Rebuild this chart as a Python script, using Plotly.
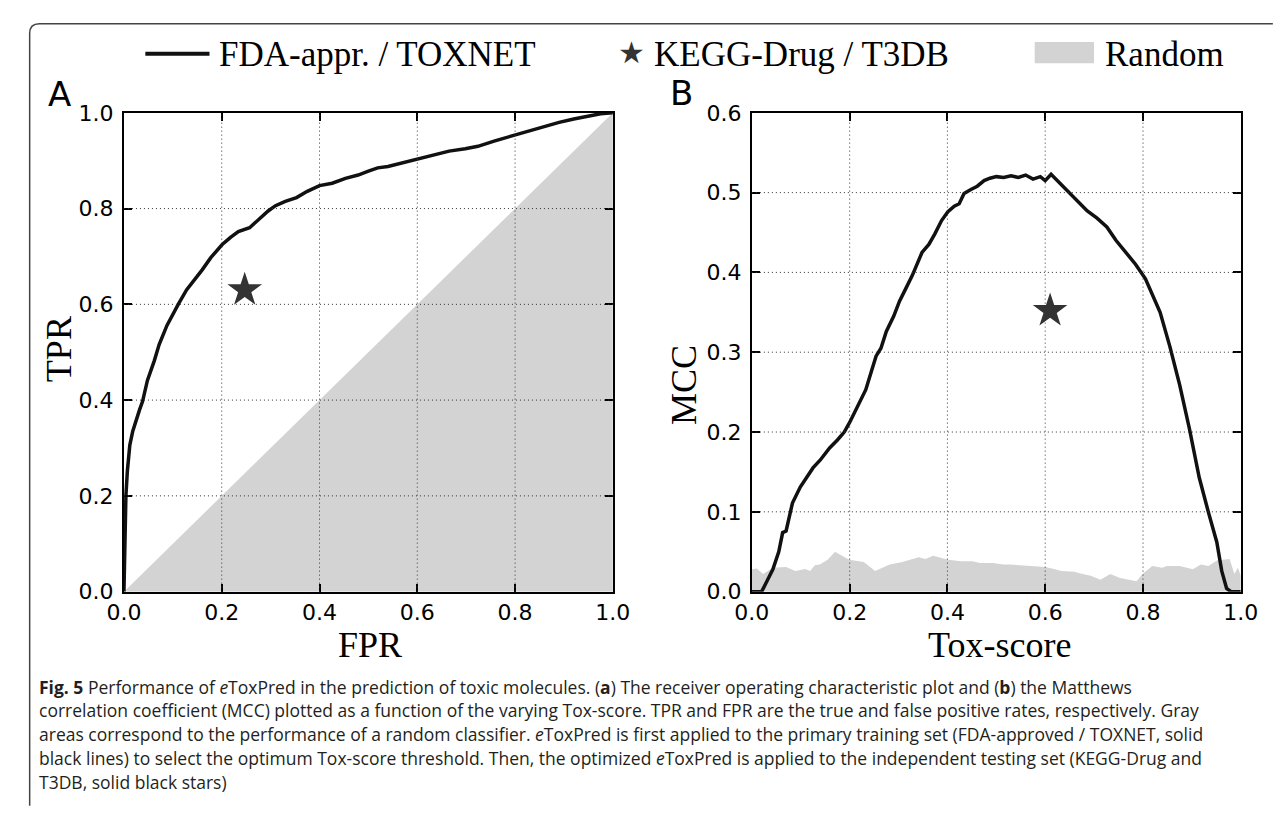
import plotly.graph_objects as go

W, H = 1286, 814

# ---------------- data ----------------
roc_fpr = [0, 0.002, 0.004, 0.007, 0.012, 0.018, 0.025, 0.032, 0.038, 0.048, 0.062, 0.072, 0.088, 0.1, 0.111,
           0.128, 0.141, 0.16, 0.178, 0.201, 0.218, 0.234, 0.257, 0.27, 0.28, 0.295, 0.31, 0.33, 0.353, 0.375,
           0.4, 0.426, 0.453, 0.479, 0.5, 0.519, 0.54, 0.559, 0.598, 0.632, 0.665, 0.698, 0.724, 0.757, 0.791,
           0.83, 0.863, 0.89, 0.92, 0.95, 0.975, 1.0]
roc_tpr = [0, 0.12, 0.2, 0.252, 0.306, 0.335, 0.36, 0.38, 0.397, 0.441, 0.482, 0.516, 0.556, 0.58, 0.6,
           0.63, 0.646, 0.672, 0.698, 0.725, 0.74, 0.752, 0.76, 0.772, 0.782, 0.795, 0.806, 0.815, 0.823, 0.836,
           0.848, 0.853, 0.863, 0.87, 0.878, 0.885, 0.888, 0.893, 0.902, 0.912, 0.92, 0.925, 0.93, 0.941, 0.951,
           0.962, 0.971, 0.98, 0.987, 0.993, 0.998, 1.0]
roc_random_fpr = [0, 1]
roc_random_tpr = [0, 1]
roc_test_fpr = [0.247]
roc_test_tpr = [0.630]

mcc_tox = [0, 0.02, 0.03, 0.043, 0.055, 0.063, 0.07, 0.083, 0.099, 0.112,
           0.125, 0.14, 0.159, 0.175, 0.189, 0.2, 0.213, 0.223, 0.233, 0.245,
           0.254, 0.264, 0.275, 0.29, 0.302, 0.315, 0.328, 0.348, 0.362, 0.374,
           0.388, 0.401, 0.414, 0.424, 0.434, 0.448, 0.461, 0.475, 0.487, 0.5,
           0.515, 0.53, 0.545, 0.56, 0.575, 0.59, 0.6, 0.612, 0.625, 0.646,
           0.666, 0.686, 0.706, 0.726, 0.745, 0.765, 0.785, 0.805, 0.82, 0.835,
           0.855, 0.875, 0.895, 0.915, 0.934, 0.951, 0.961, 0.971, 0.98, 1.0]
mcc_val = [0, 0, 0.012, 0.028, 0.05, 0.074, 0.076, 0.111, 0.131, 0.143,
           0.155, 0.165, 0.18, 0.19, 0.2, 0.212, 0.228, 0.24, 0.253, 0.277,
           0.295, 0.305, 0.326, 0.345, 0.364, 0.38, 0.396, 0.425, 0.435, 0.448,
           0.465, 0.476, 0.483, 0.486, 0.499, 0.504, 0.508, 0.515, 0.518, 0.52,
           0.519, 0.521, 0.519, 0.522, 0.517, 0.52, 0.515, 0.523, 0.515, 0.502,
           0.49, 0.477, 0.468, 0.457, 0.44, 0.425, 0.41, 0.392, 0.372, 0.35,
           0.307, 0.259, 0.204, 0.143, 0.099, 0.062, 0.026, 0.004, 0, 0]
rnd_tox = [0, 0.01, 0.023, 0.043, 0.07, 0.089, 0.109, 0.119, 0.129, 0.139,
           0.155, 0.17, 0.199, 0.229, 0.252, 0.282, 0.308, 0.341, 0.355, 0.371,
           0.401, 0.428, 0.451, 0.467, 0.494, 0.514, 0.527, 0.567, 0.6, 0.62,
           0.633, 0.66, 0.67, 0.693, 0.713, 0.733, 0.753, 0.787, 0.799, 0.819,
           0.839, 0.849, 0.875, 0.902, 0.918, 0.934, 0.951, 0.977, 0.987, 0.994, 1.0]
rnd_mcc = [0.028, 0.029, 0.022, 0.030, 0.031, 0.026, 0.0285, 0.026, 0.033, 0.034,
           0.040, 0.050, 0.040, 0.037, 0.026, 0.034, 0.037, 0.043, 0.041, 0.045,
           0.040, 0.038, 0.038, 0.036, 0.036, 0.034, 0.034, 0.032, 0.031, 0.028,
           0.026, 0.025, 0.023, 0.020, 0.015, 0.022, 0.017, 0.013, 0.022, 0.032,
           0.030, 0.032, 0.032, 0.028, 0.034, 0.032, 0.039, 0.041, 0.022, 0.030, 0.020]
mcc_test_tox = [0.61]
mcc_test_val = [0.352]

ticks_a = [0.0, 0.2, 0.4, 0.6, 0.8, 1.0]
ticks_b_y = [0.0, 0.1, 0.2, 0.3, 0.4, 0.5, 0.6]
legend_labels = ["FDA-appr. / TOXNET", "KEGG-Drug / T3DB", "Random"]
caption_lines = [
    "<b>Fig. 5</b> Performance of <i>e</i>ToxPred in the prediction of toxic molecules. (<b>a</b>) The receiver operating characteristic plot and (<b>b</b>) the Matthews",
    "correlation coefficient (MCC) plotted as a function of the varying Tox-score. TPR and FPR are the true and false positive rates, respectively. Gray",
    "areas correspond to the performance of a random classifier. <i>e</i>ToxPred is first applied to the primary training set (FDA-approved / TOXNET, solid",
    "black lines) to select the optimum Tox-score threshold. Then, the optimized <i>e</i>ToxPred is applied to the independent testing set (KEGG-Drug and",
    "T3DB, solid black stars)",
]

# ---------------- helpers (pixel -> paper) ----------------
def px(x):
    return x / W

def py(y):
    return 1 - y / H

GRAY = "#d3d3d3"
LINE = "#111111"
STAR = "#333333"
SERIF = "Liberation Serif, Times New Roman, serif"
SANS = "DejaVu Sans, sans-serif"

fig = go.Figure()

# Panel A
fig.add_trace(go.Scatter(x=roc_random_fpr, y=roc_random_tpr, mode="lines", fill="tozeroy",
                         fillcolor=GRAY, line=dict(width=0, color=GRAY), xaxis="x", yaxis="y",
                         hoverinfo="skip", showlegend=False))
fig.add_trace(go.Scatter(x=roc_fpr, y=roc_tpr, mode="lines", line=dict(color=LINE, width=3.5),
                         xaxis="x", yaxis="y", showlegend=False))
fig.add_trace(go.Scatter(x=roc_test_fpr, y=roc_test_tpr, mode="markers",
                         marker=dict(symbol="star", size=26, color=STAR, line=dict(width=0)),
                         xaxis="x", yaxis="y", showlegend=False))
# Panel B
fig.add_trace(go.Scatter(x=rnd_tox, y=rnd_mcc, mode="lines", fill="tozeroy",
                         fillcolor=GRAY, line=dict(width=0, color=GRAY), xaxis="x2", yaxis="y2",
                         hoverinfo="skip", showlegend=False))
fig.add_trace(go.Scatter(x=mcc_tox, y=mcc_val, mode="lines", line=dict(color=LINE, width=3.5),
                         xaxis="x2", yaxis="y2", showlegend=False))
fig.add_trace(go.Scatter(x=mcc_test_tox, y=mcc_test_val, mode="markers",
                         marker=dict(symbol="star", size=26, color=STAR, line=dict(width=0)),
                         xaxis="x2", yaxis="y2", showlegend=False))

ydom = [py(598), py(104)]
axis_common = dict(showline=True, linecolor="black", linewidth=2, mirror="allticks",
                   ticks="inside", ticklen=8, tickwidth=1.5, tickcolor="black",
                   tickfont=dict(family=SANS, size=22, color="black"),
                   showgrid=False, zeroline=False, tickformat=".1f", fixedrange=True)

fig.update_layout(
    width=W, height=H, margin=dict(l=0, r=0, t=0, b=0),
    paper_bgcolor="white", plot_bgcolor="white", showlegend=False,
    xaxis=dict(domain=[px(109), px(612)], range=[0, 1], tickvals=ticks_a, anchor="y", **axis_common),
    yaxis=dict(domain=ydom, range=[0, 1], tickvals=ticks_a, anchor="x", ticklabelstandoff=4, **axis_common),
    xaxis2=dict(domain=[px(755), px(1258)], range=[0, 1], tickvals=ticks_a, anchor="y2", **axis_common),
    yaxis2=dict(domain=ydom, range=[0, 0.6], tickvals=ticks_b_y, anchor="x2", ticklabelstandoff=4, **axis_common),
)

shapes = []
grid_style = dict(color="#333333", width=1, dash="1px,3px")
for xa, ya, xt, yt in [("x", "y", ticks_a[1:-1], ticks_a[1:-1]),
                       ("x2", "y2", ticks_a[1:-1], ticks_b_y[1:-1])]:
    for t in xt:
        shapes.append(dict(type="line", xref=xa, yref=ya + " domain", x0=t, x1=t, y0=0, y1=1,
                           line=grid_style, layer="above"))
    for t in yt:
        shapes.append(dict(type="line", xref=xa + " domain", yref=ya, x0=0, x1=1, y0=t, y1=t,
                           line=grid_style, layer="above"))

# outer frame with rounded top-left corner
r = 10
shapes.append(dict(type="path", xref="paper", yref="paper",
                   path=f"M {px(12)},{py(H + 5)} L {px(12)},{py(12 + r)} Q {px(12)},{py(12)} {px(12 + r)},{py(12)} L {px(W + 5)},{py(12)}",
                   line=dict(color="#444444", width=1.5)))

# legend (manual)
shapes.append(dict(type="line", xref="paper", yref="paper", x0=px(131), x1=px(197), y0=py(43), y1=py(43),
                   line=dict(color=LINE, width=4)))
shapes.append(dict(type="rect", xref="paper", yref="paper", x0=px(1046), x1=px(1107), y0=py(53), y1=py(31),
                   fillcolor=GRAY, line=dict(width=0)))
fig.update_layout(shapes=shapes)

ann = []
ann.append(dict(text=legend_labels[0], x=px(205), y=py(44), xanchor="left", yanchor="middle"))
ann.append(dict(text="★", x=px(631), y=py(42), xanchor="center", yanchor="middle",
                font=dict(family=SANS, size=30, color=STAR)))
ann.append(dict(text=legend_labels[1], x=px(652), y=py(44), xanchor="left", yanchor="middle"))
ann.append(dict(text=legend_labels[2], x=px(1116), y=py(44), xanchor="left", yanchor="middle"))
for a in ann:
    a.setdefault("font", dict(family=SERIF, size=35, color="black"))

# panel letters
ann.append(dict(text="A", x=px(43), y=py(85), font=dict(family=SANS, size=34, color="black")))
ann.append(dict(text="B", x=px(683), y=py(84), font=dict(family=SANS, size=34, color="black")))
# axis titles
title_font = dict(family=SERIF, size=36, color="black")
ann.append(dict(text="FPR", x=px(362), y=py(653), font=title_font))
ann.append(dict(text="Tox-score", x=px(1010), y=py(653), font=title_font))
ann.append(dict(text="TPR", x=px(42), y=py(348), textangle=-90, font=title_font))
ann.append(dict(text="MCC", x=px(685), y=py(385), textangle=-90, font=title_font))

# caption
cap_y = [696, 720.5, 745, 769.5, 794]
for line, yy in zip(caption_lines, cap_y):
    ann.append(dict(text=line, x=px(20), y=py(yy), xanchor="left", yanchor="middle",
                    font=dict(family="Open Sans, Noto Sans, sans-serif", size=17.5, color="#231f20")))

for a in ann:
    a.update(xref="paper", yref="paper", showarrow=False)
    a.setdefault("xanchor", "center")
    a.setdefault("yanchor", "middle")
fig.update_layout(annotations=ann)

fig.write_html("out.html")
